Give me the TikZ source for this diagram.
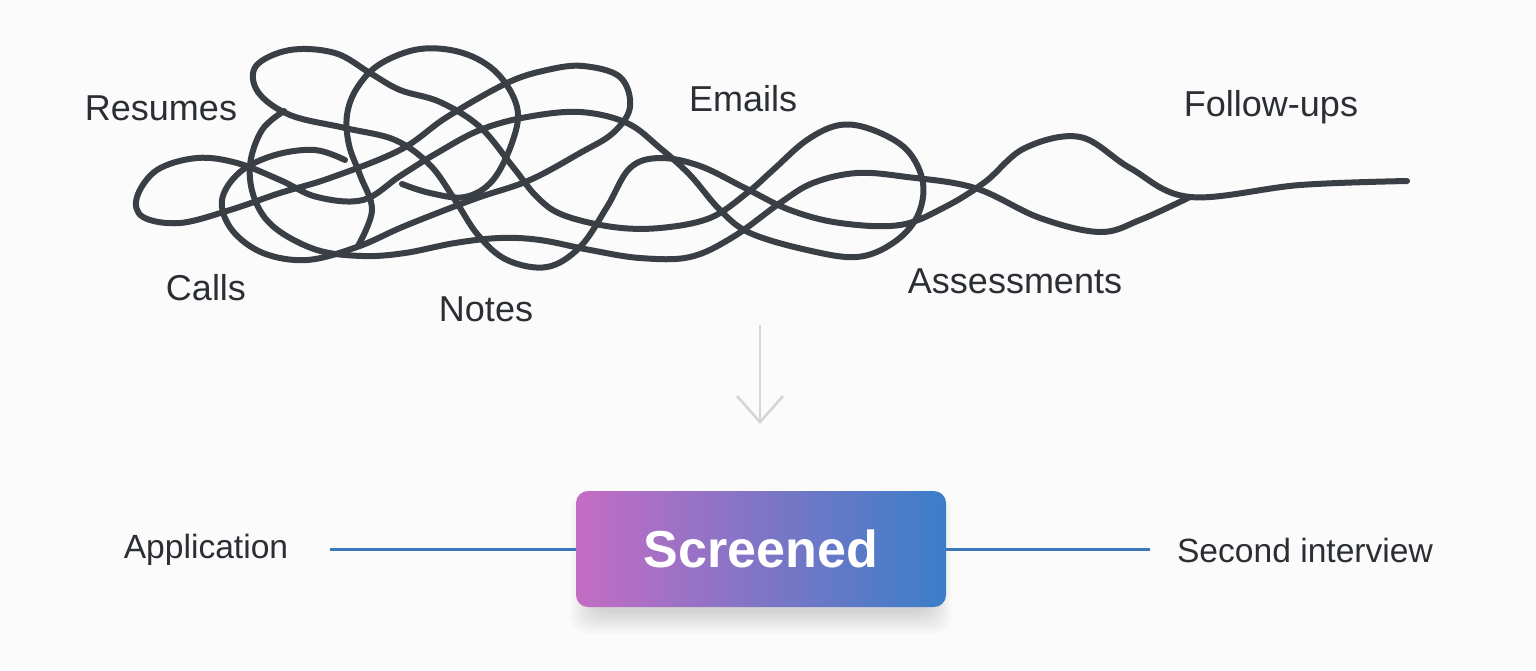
\documentclass[tikz,border=0pt]{standalone}
\usepackage{fontspec}
\setmainfont{Liberation Sans}
\usetikzlibrary{arrows.meta}
\definecolor{inkgray}{HTML}{3A3F45}
\definecolor{labelgray}{HTML}{2B2E33}
\definecolor{arrowgray}{HTML}{D6D6D8}
\definecolor{flowblue}{HTML}{3B77BA}
\definecolor{scrpink}{HTML}{C46CC4}
\definecolor{scrmid}{HTML}{7E78C0}
\definecolor{scrblue}{HTML}{3A7EC8}
\definecolor{bgwhite}{HTML}{FBFBFC}
\tikzset{
  scribble/.style={draw=inkgray, line width=3pt, line cap=round, line join=round},
  toplbl/.style={text=labelgray, font=\fontsize{18}{20}\selectfont},
  steplbl/.style={text=labelgray, font=\fontsize{16.8}{19}\selectfont},
  flowline/.style={draw=flowblue, line width=1.5pt},
  screenbox/.style={rounded corners=6pt, left color=scrpink, middle color=scrmid,
    right color=scrblue, minimum width=185pt, minimum height=58pt,
    text=white, font=\fontsize{26}{30}\selectfont\bfseries},
}
\begin{document}
\begin{tikzpicture}[x=0.5pt,y=-0.5pt]
\fill[bgwhite] (0,0) rectangle (1536,670);
% the tangle
\draw[scribble] plot[smooth, tension=0.6] coordinates {(1407,181) (1300,185) (1190,197) (1130,168)
  (1080,137) (1025,148) (985,182) (945,207) (900,225) (840,223) (790,210) (745,188) (700,166)
  (660,158) (630,168) (607,207) (580,247) (547,267) (507,260) (478,235) (455,200) (430,165)
  (395,140) (345,128) (290,115) (258,92) (256,66) (290,50) (335,53) (370,73) (400,90) (440,102)
  (480,127) (513,167) (537,197) (563,215) (613,227) (660,228) (710,218) (747,193) (773,170)
  (807,140) (840,125) (873,130) (907,150) (923,183) (917,217) (893,243) (857,257) (807,250)
  (750,233) (720,210) (690,175) (660,148) (627,123) (580,112) (527,117) (480,130) (437,153)
  (400,176) (363,200) (317,197) (280,180) (237,163) (197,158) (157,170) (137,197) (143,217)
  (180,223) (230,210) (280,193) (330,178) (400,150) (447,117) (507,83) (547,70) (583,66)
  (620,77) (630,107) (613,133) (580,153) (530,180) (480,197) (440,212) (400,228) (357,247)
  (307,260) (263,253) (232,230) (222,200) (240,172) (275,155) (315,150) (345,160)};
\draw[scribble] plot[smooth, tension=0.6] coordinates {(1190,197) (1140,220) (1100,232) (1040,218)
  (975,188) (907,177) (857,173) (813,183) (780,203) (733,237) (690,257) (640,258) (590,250)
  (540,240) (500,238) (455,243) (405,253) (363,256) (317,250) (275,228) (255,200) (250,165)
  (262,130) (284,111)};
\draw[scribble] plot[smooth, tension=0.6] coordinates {(358,246) (372,210) (360,175) (349,145)
  (347,115) (357,88) (380,64) (420,49) (463,53) (497,73) (517,107) (513,140) (493,180)
  (465,197) (430,193) (402,184)};
% labels
\node[toplbl] (resumes) at (161,108) {Resumes};
\node[toplbl] (emails) at (743,99) {Emails};
\node[toplbl] (followups) at (1271,107) {Follow-ups};
\node[toplbl] (calls) at (206,288) {Calls};
\node[toplbl] (notes) at (486,309) {Notes};
\node[toplbl] (assessments) at (1015,281) {Assessments};
% arrow down
\coordinate (arrtop) at (760,325);
\coordinate (arrtip) at (760,424);
\draw[draw=arrowgray, line width=1.3pt, -{Straight Barb[length=13pt,width=23pt,line width=1.3pt]}] (arrtop) -- (arrtip);
% soft shadow under the box
\foreach \k in {0,...,7}
  \fill[black, opacity=0.018, rounded corners=8pt] (592-3*\k,508-2*\k) rectangle (930+3*\k,612+3*\k);
% pipeline
\node[screenbox] (screened) at (761,549) {Screened};
\node[steplbl] (application) at (206,550) {Application};
\node[steplbl] (second) at (1305,550) {Second interview};
\coordinate (lineL) at (330,549);
\coordinate (lineR) at (1150,549);
\draw[flowline] (lineL) -- (screened.west |- lineL);
\draw[flowline] (screened.east |- lineR) -- (lineR);
\end{tikzpicture}
\end{document}
